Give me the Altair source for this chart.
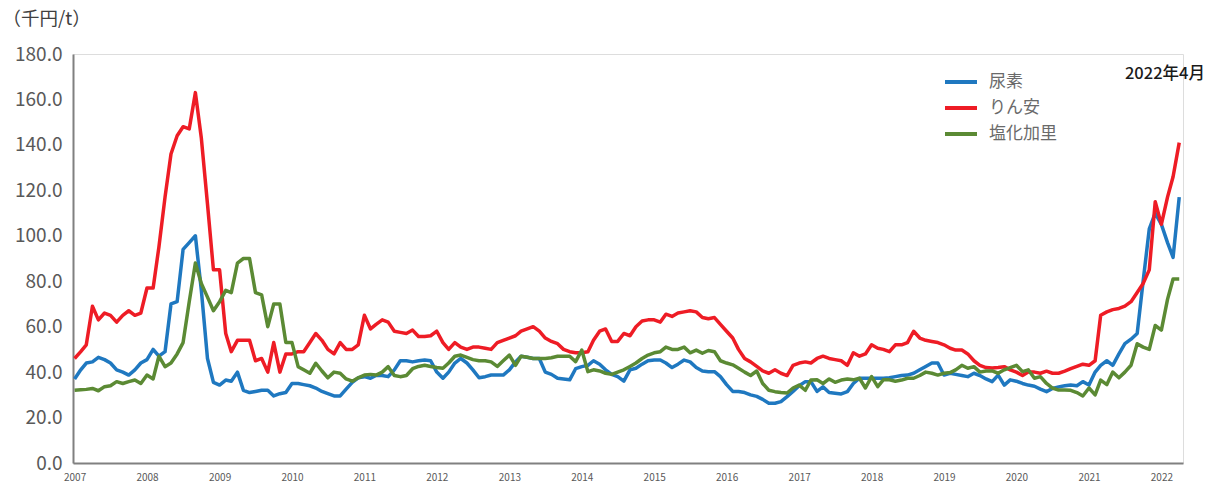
import altair as alt
import pandas as pd

# Monthly prices (thousand yen / t), Jan 2007 - Apr 2022
urea = [
    37, 41, 44, 44.5, 46.5, 45.5, 44, 41, 40, 38.7, 41, 44,            # 2007
    45.5, 50, 47, 49, 70, 71, 94, 97, 100, 76, 46, 35.5,               # 2008
    34.3, 36.5, 36, 40, 32, 31, 31.5, 32, 32, 29.5, 30.5, 31,          # 2009
    35, 35, 34.5, 34, 33, 31.5, 30.5, 29.5, 29.5, 32.5, 35.5, 37.5,    # 2010
    38, 37.3, 38.5, 38.5, 38, 41, 45, 45, 44.5, 45, 45.3, 45,          # 2011
    40, 37.3, 40, 44, 46, 44, 41, 37.5, 38, 38.7, 38.7, 38.7,          # 2012
    41, 44.5, 47, 46.5, 46, 46, 40, 39, 37.3, 37, 36.6, 41.5,          # 2013
    42.4, 43, 45, 43.5, 41, 39, 38, 36, 41, 41.7, 43.5, 45,            # 2014
    45.3, 45.3, 44, 42, 43.5, 45.3, 44.5, 42, 40.5, 40.2, 40.2, 38,    # 2015
    34.5, 31.5, 31.5, 31, 30, 29.3, 28, 26.3, 26.3, 27, 29.2, 31.5,    # 2016
    34, 35.8, 35.8, 31.5, 33.5, 31, 30.7, 30.4, 31.4, 35, 37.3, 37.3,  # 2017
    37.3, 37.3, 37.3, 37.5, 38, 38.5, 38.7, 39.5, 41, 42.5, 44, 44,    # 2018
    38.7, 39.5, 39, 38.5, 38, 39.5, 38.5, 37, 35.8, 38.7, 34.3, 36.6,  # 2019
    36, 35, 34.3, 33.8, 32.5, 31.4, 32.8, 33.5, 34, 34.3, 34, 35.8,    # 2020
    34.3, 40, 43, 45, 43, 48, 52.5, 54.5, 57, 80, 103, 110,            # 2021
    105, 97, 90.5, 117,                                                # 2022
]
map_ = [
    46, 49, 52, 69, 63, 66, 65, 62, 65, 67, 65, 66,
    77, 77, 95, 117, 136, 144, 148, 147, 163, 143, 114, 85,
    85, 57, 49, 54, 54, 54, 45, 46, 40, 53, 40, 48,
    48, 49, 49, 53, 57, 54, 50, 48, 53, 50, 50, 52,
    65, 59, 61, 63, 62, 58, 57.5, 57, 58.5, 55.7, 55.7, 56,
    58, 53, 50, 53, 51, 50, 51, 51, 50.5, 50, 53, 54,
    55, 56, 58, 59, 60, 58, 55, 53.5, 52.5, 50, 49, 48.5,
    48.5, 49, 54, 58, 59, 53.5, 53.5, 57, 56, 60, 62.5, 63,
    63, 62, 65.5, 64.5, 66, 66.5, 67, 66.5, 64, 63.5, 64, 61,
    58, 55, 50, 46, 44.5, 42.5, 40.5, 39.5, 41, 39.5, 38.5, 43,
    44, 44.5, 44, 46, 47, 46, 45.5, 45, 43, 48.5, 47, 48,
    52, 50.5, 50, 49, 52, 52, 53, 58, 55, 54, 53.5, 53,
    52, 50.5, 49.7, 49.7, 48, 45, 43, 42, 41.8, 42, 42.4, 41,
    40, 38.5, 40, 40, 39.5, 40.4, 39.5, 39.5, 40.4, 41.5, 42.5, 43.5,
    43, 45, 65, 66.5, 67.5, 68, 69, 71, 75, 79, 85, 115,
    105, 117, 126, 141,
]
potash = [
    32, 32.2, 32.4, 32.8, 31.8, 33.6, 34, 35.8, 35, 35.8, 36.5, 35,
    38.7, 37, 47, 42.4, 44, 48, 53, 71, 88, 79, 73, 67,
    71, 76, 75, 88, 90, 90, 75, 74, 60, 70, 70, 53,
    53, 42.4, 41, 39.5, 43.9, 40.5, 37.5, 40, 39.5, 37, 36, 37.5,
    38.7, 39, 38.7, 40, 42.4, 38.5, 38, 38.5, 41.5, 42.5, 43, 42.5,
    42, 41.7, 44, 47, 47.5, 46.5, 45.5, 45, 45, 44.5, 42.5, 45,
    47.5, 43, 47, 46.5, 46, 46, 46, 46.3, 47, 47, 47, 44.6,
    49.7, 40.2, 41, 40.5, 39.5, 39, 40, 41, 42.5, 44, 46, 47.5,
    48.5, 49, 51, 50, 50, 51, 48.5, 49.7, 48.3, 49.5, 49, 45,
    44, 43.2, 41.7, 40, 38.5, 40.5, 35, 32, 31.4, 31, 30.8, 33,
    34.3, 32, 36.5, 36.6, 35, 37, 35.5, 36.5, 37, 36.6, 37.3, 33,
    38, 33.6, 36.6, 36.6, 36, 36.5, 37.3, 37.3, 38.5, 40, 39.5, 38.7,
    39.5, 39.8, 41, 43, 41.7, 42.4, 40, 40.5, 40.5, 39.5, 41, 42,
    43, 40.2, 41, 37.3, 38, 35, 33, 32.1, 32.1, 32, 31, 29.5,
    33, 30, 36.5, 34.5, 40, 37.5, 40, 43, 52.5, 51, 50, 60.5,
    58.5, 72, 81, 81,
]

series_names = ["尿素", "りん安", "塩化加里"]
series_colors = ["#1F78C0", "#EE1C25", "#5B8A34"]
year_ticks = [f"{y}-01-01" for y in range(2007, 2023)]

dates = pd.date_range("2007-01-01", periods=len(urea), freq="MS")
frames = []
for name, vals in zip(series_names, [urea, map_, potash]):
    frames.append(pd.DataFrame({"date": dates, "value": vals, "series": name}))
df = pd.concat(frames, ignore_index=True)

font = "Noto Sans CJK JP"

chart = alt.Chart(df).mark_line(strokeWidth=3.5, strokeJoin="round").encode(
    x=alt.X(
        "date:T",
        scale=alt.Scale(domain=["2006-12-24", "2022-04-20"]),
        axis=alt.Axis(
            values=year_ticks, format="%Y", title=None, grid=False, ticks=False,
            labelFontSize=10, labelColor="#595959", labelPadding=9, labelFont=font,
            domainColor="#808080", domainWidth=2, labelFlush=False,
        ),
    ),
    y=alt.Y(
        "value:Q",
        scale=alt.Scale(domain=[0, 180], nice=False),
        axis=alt.Axis(
            values=list(range(0, 181, 20)), format=".1f", grid=False, ticks=False,
            labelFontSize=19, labelColor="#595959", labelPadding=11, labelFont=font,
            domainColor="#808080", domainWidth=2,
            title="（千円/t）", titleAngle=0, titleAlign="left", titleBaseline="middle",
            titleX=-71, titleY=-36, titleFontSize=18.5, titleFontWeight="normal",
            titleColor="#404040", titleFont=font,
        ),
    ),
    color=alt.Color(
        "series:N",
        scale=alt.Scale(domain=series_names, range=series_colors),
        sort=series_names,
        legend=alt.Legend(
            title=None, orient="none", legendX=870, legendY=10,
            symbolType="stroke", symbolStrokeWidth=4, symbolSize=1024,
            labelFontSize=17, labelColor="#6a6a6a", labelFont=font,
            rowPadding=-30, labelOffset=10,
        ),
    ),
).properties(
    width=1110,
    height=409,
    title=alt.TitleParams(
        "2022年4月", anchor="end", fontSize=16.5, fontWeight=500,
        color="#1a1a1a", font=font, dx=22, dy=77,
    ),
    autosize=alt.AutoSizeParams(type="none"),
    padding={"left": 73, "top": 54, "right": 35, "bottom": 24},
).configure_view(stroke=None).configure(background="white")

chart.save("out.html", embed_options={"renderer": "svg", "actions": False})
